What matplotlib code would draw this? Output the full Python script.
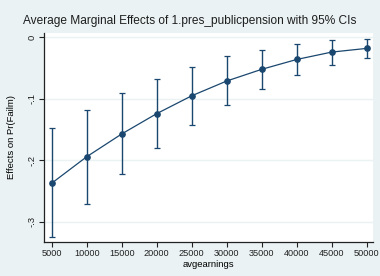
import numpy as np
import matplotlib
matplotlib.use('Agg')
import matplotlib.pyplot as plt

# avgearnings values and average marginal effects with 95% CIs
avgearnings = [5000, 10000, 15000, 20000, 25000, 30000, 35000, 40000, 45000, 50000]
effect = [-0.237, -0.194, -0.157, -0.124, -0.095, -0.071, -0.052, -0.036, -0.024, -0.018]
ci_low = [-0.325, -0.271, -0.222, -0.179, -0.142, -0.110, -0.084, -0.061, -0.045, -0.033]
ci_high = [-0.147, -0.118, -0.091, -0.068, -0.048, -0.031, -0.020, -0.011, -0.005, -0.002]
yticks = [0, -0.1, -0.2, -0.3]
ytick_labels = ['0', '-.1', '-.2', '-.3']

plt.rcParams['font.family'] = ['Liberation Sans', 'DejaVu Sans']
bg = '#eaf2f3'
navy = '#1a476f'

fig = plt.figure(figsize=(3.8, 2.76), dpi=100, facecolor=bg)
ax = fig.add_axes([44 / 380, 1 - 241.7 / 276, (372.7 - 44) / 380, (241.7 - 33) / 276])
ax.set_facecolor('white')

x = np.array(avgearnings)
y = np.array(effect)
err = [y - np.array(ci_low), np.array(ci_high) - y]
ax.errorbar(x, y, yerr=err, color=navy, lw=0.9, marker='o', ms=3.8,
            capsize=2.5, capthick=0.9, elinewidth=1.0, ecolor=navy)

ax.set_xlim(3900, 50857)
ax.set_ylim(-0.332, 0.007)
ax.set_xticks(avgearnings)
ax.set_xticklabels([str(v) for v in avgearnings], fontsize=6.6)
ax.set_yticks(yticks)
ax.set_yticklabels(ytick_labels, fontsize=6.8, rotation=90, va='center')
ax.grid(axis='y', color=bg, lw=1.0)
ax.set_axisbelow(True)

for s in ['top', 'right']:
    ax.spines[s].set_visible(False)
for s in ['left', 'bottom']:
    ax.spines[s].set_color('#222222')
    ax.spines[s].set_linewidth(0.9)
ax.tick_params(length=3.5, width=0.8, pad=2, colors='#222222')

ax.set_xlabel('avgearnings', fontsize=6.8, labelpad=1)
ax.set_ylabel('Effects on Pr(Failm)', fontsize=6.8, labelpad=8)
fig.text(0.5, 1 - 21 / 276, 'Average Marginal Effects of 1.pres_publicpension with 95% CIs',
         ha='center', va='center', fontsize=8.6, color='#1e1e1e')

fig.savefig('out.png', dpi=100, facecolor=bg)
